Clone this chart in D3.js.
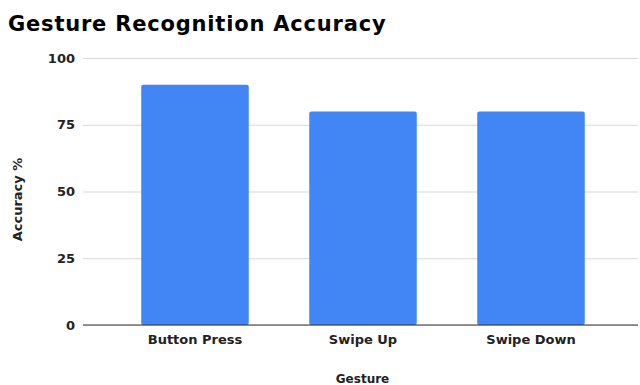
<!DOCTYPE html>
<html>
<head>
<meta charset="utf-8">
<script src="https://cdn.jsdelivr.net/npm/d3@7"></script>
<style>
  body { margin: 0; background: #fff; }
  text { font-family: "DejaVu Sans", Verdana, sans-serif; font-weight: bold; }
</style>
</head>
<body>
<div id="chart"></div>
<script>
const gestures = ["Button Press", "Swipe Up", "Swipe Down"];
const accuracy = [90, 80, 80];
const yTicks = [0, 25, 50, 75, 100];

const w = 640, h = 385;
const plotLeft = 83, plotRight = 638, plotTop = 58, plotBottom = 325;

const svg = d3.select("#chart").append("svg")
    .attr("width", w)
    .attr("height", h);

const x = d3.scaleBand()
    .domain(gestures)
    .range([111, 615])
    .paddingInner(0.36)
    .paddingOuter(0.18);

const y = d3.scaleLinear()
    .domain([0, 100])
    .range([plotBottom, plotTop]);

// title
svg.append("text")
    .attr("x", 8)
    .attr("y", 31)
    .attr("font-size", 21)
    .attr("letter-spacing", 0.8)
    .attr("fill", "#000")
    .text("Gesture Recognition Accuracy");

// grid + y labels
const yAxis = d3.axisLeft(y)
    .tickValues(yTicks)
    .tickSize(-(plotRight - plotLeft))
    .tickPadding(8);

const gy = svg.append("g")
    .attr("transform", `translate(${plotLeft},0)`)
    .call(yAxis);
gy.select(".domain").remove();
gy.selectAll(".tick line").attr("stroke", "#d9d9d9");
gy.selectAll(".tick text")
    .attr("font-size", 13)
    .attr("fill", "#222")
    .attr("font-family", null);

// bars
svg.append("g").selectAll("rect")
    .data(gestures)
    .join("rect")
    .attr("x", d => x(d))
    .attr("y", (d, i) => y(accuracy[i]))
    .attr("width", x.bandwidth())
    .attr("height", (d, i) => y(0) - y(accuracy[i]))
    .attr("rx", 2)
    .attr("fill", "#4285f4");

// baseline + x labels
const xAxis = d3.axisBottom(x).tickSize(0).tickPadding(10);
const gx = svg.append("g")
    .attr("transform", `translate(0,${plotBottom})`)
    .call(xAxis);
gx.select(".domain").remove();
gx.selectAll(".tick text")
    .attr("font-size", 13)
    .attr("fill", "#222")
    .attr("font-family", null);

svg.append("line")
    .attr("x1", plotLeft).attr("x2", plotRight)
    .attr("y1", plotBottom).attr("y2", plotBottom)
    .attr("stroke", "#333");

// axis titles
svg.append("text")
    .attr("x", (plotLeft + plotRight) / 2 + 2)
    .attr("y", 383)
    .attr("text-anchor", "middle")
    .attr("font-size", 12)
    .attr("fill", "#222")
    .text("Gesture");

svg.append("text")
    .attr("transform", `translate(22,${(plotTop + plotBottom) / 2 + 8}) rotate(-90)`)
    .attr("text-anchor", "middle")
    .attr("font-size", 13)
    .attr("fill", "#222")
    .text("Accuracy %");
</script>
</body>
</html>
